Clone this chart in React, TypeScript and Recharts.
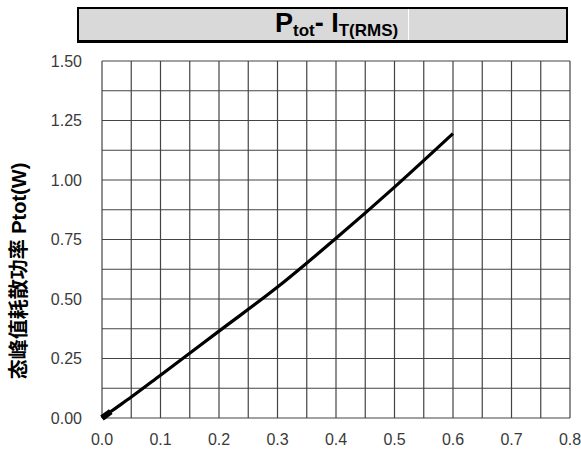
import React from 'react';
import { LineChart, Line, XAxis, YAxis, CartesianGrid } from 'recharts';

// ─── Data ─────────────────────────────────────────────────────────────────────

const CURRENT = [0, 0.015, 0.05, 0.1, 0.2, 0.3, 0.4, 0.5, 0.6];
const POWER   = [0, 0.027, 0.088, 0.18, 0.365, 0.55, 0.755, 0.97, 1.195];
const BLOB    = [0, 0.027];

const X_TICKS = [0, 0.05, 0.1, 0.15, 0.2, 0.25, 0.3, 0.35, 0.4, 0.45, 0.5, 0.55, 0.6, 0.65, 0.7, 0.75, 0.8];
const Y_TICKS = [0, 0.125, 0.25, 0.375, 0.5, 0.625, 0.75, 0.875, 1, 1.125, 1.25, 1.375, 1.5];

const Y_LABEL = '态峰值耗散功率 Ptot(W)';

const data = CURRENT.map((x, i) => ({ x, p: POWER[i], blob: BLOB[i] }));

// ─── Helpers ──────────────────────────────────────────────────────────────────

const FONT = '"Liberation Sans", Arial, "Noto Sans CJK SC", sans-serif';
const tickStyle = { fill: '#3a3a3a', fontSize: 16, fontFamily: FONT };

const isMultiple = (v: number, step: number) => Math.abs(v / step - Math.round(v / step)) < 1e-6;
const fmtX = (v: number) => (isMultiple(v, 0.1) ? v.toFixed(1) : '');
const fmtY = (v: number) => (isMultiple(v, 0.25) ? v.toFixed(2) : '');

function YLabel() {
  return (
    <text x={19} y={271} transform="rotate(-90 19 271)" textAnchor="middle" dominantBaseline="central"
          fontSize={20} fontWeight="bold" fontFamily={FONT} fill="#000">
      {Y_LABEL}
    </text>
  );
}

function Title() {
  return (
    <div style={{
      position: 'absolute', left: 77, top: 7, width: 491, height: 36, boxSizing: 'border-box',
      background: '#d9d9d9', border: '2px solid #000', borderBottomWidth: 3,
    }}>
      <div style={{ position: 'absolute', left: 329, top: 0, width: 1, height: '100%', background: '#fff' }} />
      <svg width={487} height={31} style={{ position: 'absolute', left: 0, top: 0 }}>
        <text x={196} y={23} fontFamily={FONT} fontWeight="bold" fill="#000">
          <tspan fontSize={27}>P</tspan>
          <tspan fontSize={17} dy={4}>tot</tspan>
          <tspan fontSize={27} dy={-4}>- I</tspan>
          <tspan fontSize={17} dy={4}>T(RMS)</tspan>
        </text>
      </svg>
    </div>
  );
}

// ─── Chart ────────────────────────────────────────────────────────────────────

export default function App() {
  return (
    <div style={{ position: 'absolute', left: 0, top: 0, width: 581, height: 454, background: '#fff' }}>
      <LineChart width={581} height={454} data={data} margin={{ top: 61, right: 11, left: 42, bottom: 6 }}>
        <CartesianGrid stroke="#444" strokeWidth={1.2} />
        <XAxis type="number" dataKey="x" domain={[0, 0.8]} ticks={X_TICKS} tickFormatter={fmtX}
               interval={0} height={30} tick={tickStyle} tickLine={false} axisLine={false}
               tickSize={6} tickMargin={10} />
        <YAxis type="number" domain={[0, 1.5]} ticks={Y_TICKS} tickFormatter={fmtY}
               interval={0} width={60} tick={tickStyle} tickLine={false} axisLine={false}
               tickSize={6} tickMargin={14} />
        <Line type="monotone" dataKey="p" stroke="#000" strokeWidth={3.2} dot={false} isAnimationActive={false} />
        <Line type="linear" dataKey="blob" stroke="#000" strokeWidth={6} dot={false} isAnimationActive={false} />
        <YLabel />
      </LineChart>
      <Title />
    </div>
  );
}
